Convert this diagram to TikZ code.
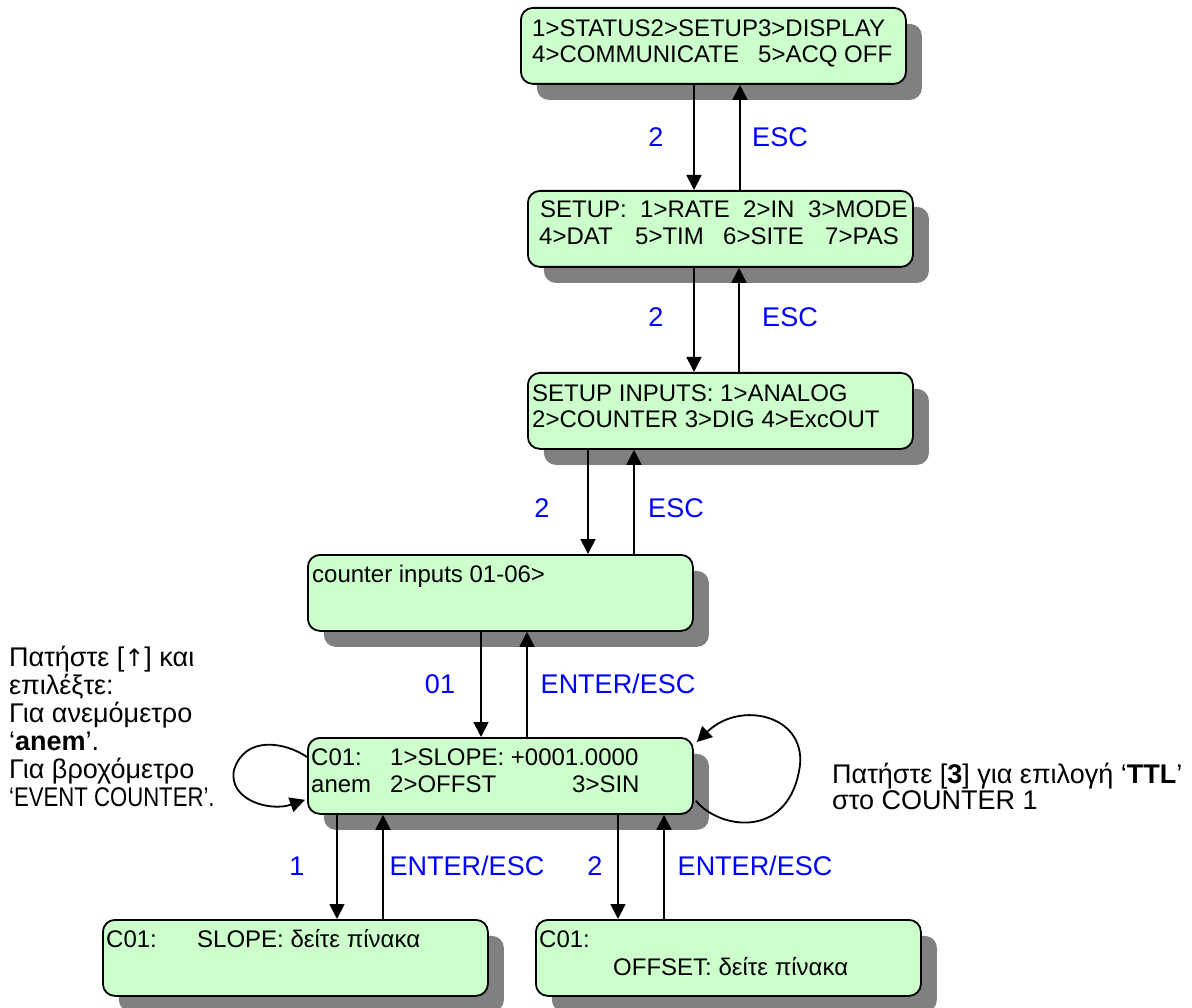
\documentclass[tikz,border=0pt]{standalone}
\usepackage{fontspec}
\setmainfont{Liberation Sans}
\newfontfamily\narrowfont[FakeStretch=0.82]{Liberation Sans}
\newfontfamily\arrowfont{DejaVu Sans}
\usetikzlibrary{arrows.meta,shadows,calc}
\definecolor{screen}{HTML}{CCFFCC}
\definecolor{keyblue}{HTML}{0000FF}
\tikzset{
  screenbox/.style={draw=black, line width=1.8pt, fill=screen, rounded corners=12pt,
    minimum width=385pt, minimum height=76pt, inner sep=0pt, anchor=north west,
    drop shadow={shadow xshift=16pt, shadow yshift=-16pt, fill=black!50, opacity=1, draw=none}},
  disp/.style={anchor=base west, inner sep=0pt, font=\fontsize{24}{26}\selectfont},
  keylab/.style={anchor=base, inner sep=0pt, text=keyblue, font=\fontsize{27}{29}\selectfont},
  note/.style={anchor=base west, inner sep=0pt, font=\fontsize{27}{29}\selectfont},
  link/.style={line width=1.8pt, -{Triangle[length=15pt,width=15pt]}},
}
\begin{document}
\begin{tikzpicture}[x=1pt,y=-1pt]
\useasboundingbox (0,0) rectangle (1192,1008);

% menu screens
\node[screenbox] (b1) at (520,7) {};
\node[screenbox] (b2) at (527,190) {};
\node[screenbox] (b3) at (527,372) {};
\node[screenbox] (b4) at (307,554) {};
\node[screenbox] (b5) at (307,737) {};
\node[screenbox] (b6) at (102,919) {};
\node[screenbox] (b7) at (535,919) {};

% screen contents
\node[disp] (t1a) at (532,37) {1>STATUS2>SETUP3>DISPLAY};
\node[disp] (t1b) at (532,63) {4>COMMUNICATE};
\node[disp] (t1c) at (758,63) {5>ACQ OFF};

\node[disp] (t2a) at (540,218) {SETUP:};
\node[disp] (t2b) at (640,218) {1>RATE};
\node[disp] (t2c) at (743,218) {2>IN};
\node[disp] (t2d) at (808,218) {3>MODE};
\node[disp] (t2e) at (539,245) {4>DAT};
\node[disp] (t2f) at (635,245) {5>TIM};
\node[disp] (t2g) at (723,245) {6>SITE};
\node[disp] (t2h) at (825,245) {7>PAS};

\node[disp] (t3a) at (532,401) {SETUP INPUTS: 1>ANALOG};
\node[disp] (t3b) at (532,427) {2>COUNTER 3>DIG 4>ExcOUT};

\node[disp] (t4a) at (312,582) {counter inputs 01-06>};

\node[disp] (t5a) at (311,765) {C01:};
\node[disp] (t5b) at (390,765) {1>SLOPE: +0001.0000};
\node[disp] (t5c) at (311,792) {anem};
\node[disp] (t5d) at (390,792) {2>OFFST};
\node[disp] (t5e) at (572,792) {3>SIN};

\node[disp] (t6a) at (106,947) {C01:};
\node[disp] (t6b) at (197,947) {SLOPE: δείτε πίνακα};

\node[disp] (t7a) at (539,947) {C01:};
\node[disp] (t7b) at (613,975) {OFFSET: δείτε πίνακα};

% key transitions
\draw[link] (b1.south -| 694,0) -- (b2.north -| 694,0);
\draw[link] (b2.north -| 740,0) -- (b1.south -| 740,0);
\draw[link] (b2.south -| 694,0) -- (b3.north -| 694,0);
\draw[link] (b3.north -| 739,0) -- (b2.south -| 739,0);
\draw[link] (b3.south -| 588,0) -- (b4.north -| 588,0);
\draw[link] (b4.north -| 634,0) -- (b3.south -| 634,0);
\draw[link] (b4.south -| 481,0) -- (b5.north -| 481,0);
\draw[link] (b5.north -| 527,0) -- (b4.south -| 527,0);
\draw[link] (b5.south -| 337,0) -- (b6.north -| 337,0);
\draw[link] (b6.north -| 383,0) -- (b5.south -| 383,0);
\draw[link] (b5.south -| 618,0) -- (b7.north -| 618,0);
\draw[link] (b7.north -| 664,0) -- (b5.south -| 664,0);

% self loops on the counter screen
\draw[link] ($(b5.north west)+(0,20)$) .. controls (285,742) and (245,735) .. (234,770)
  .. controls (228,800) and (270,812) .. ($(b5.south west)+(-2,-15)$);
\draw[link] ($(b5.south east)+(2,-14)$) .. controls (720,830) and (790,840) .. (800,765)
  .. controls (805,715) and (740,700) .. ($(b5.north east)+(3,5)$);

% key labels
\node[keylab] (k1) at (656,147) {2};
\node[keylab] (k2) at (780,147) {ESC};
\node[keylab] (k3) at (656,327) {2};
\node[keylab] (k4) at (790,327) {ESC};
\node[keylab] (k5) at (542,517) {2};
\node[keylab] (k6) at (676,517) {ESC};
\node[keylab] (k7) at (440,693) {01};
\node[keylab] (k8) at (618,693) {ENTER/ESC};
\node[keylab] (k9) at (297,875) {1};
\node[keylab] (k10) at (467,875) {ENTER/ESC};
\node[keylab] (k11) at (595,875) {2};
\node[keylab] (k12) at (755,875) {ENTER/ESC};

% side notes
\node[note] (l1) at (9,666) {Πατήστε [{\arrowfont\fontsize{24}{26}\selectfont ↑}] και};
\node[note] (l2) at (9,694) {επιλέξτε:};
\node[note] (l3) at (9,722) {Για ανεμόμετρο};
\node[note] (l4) at (9,750) {‘\textbf{anem}’.};
\node[note] (l5) at (9,778) {Για βροχόμετρο};
\node[note] (l6) at (9,806) {\narrowfont ‘EVENT COUNTER’.};

\node[note] (r1) at (832,783) {Πατήστε [\textbf{3}] για επιλογή ‘\textbf{TTL}’};
\node[note] (r2) at (832,809) {στο COUNTER 1};
\end{tikzpicture}
\end{document}
